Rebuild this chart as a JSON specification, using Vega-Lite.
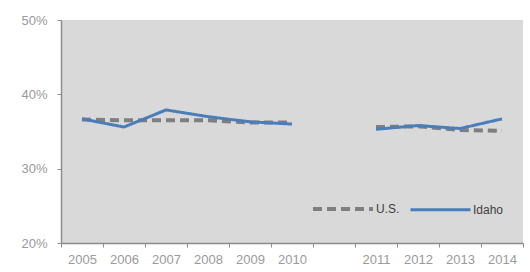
{
  "$schema": "https://vega.github.io/schema/vega-lite/v6.json",
  "width": 462,
  "height": 223,
  "autosize": {"type": "none"},
  "padding": {"left": 61, "top": 20, "right": 7, "bottom": 29},
  "background": "white",
  "config": {
    "view": {"fill": "#d9d9d9", "stroke": null},
    "font": "Liberation Sans",
    "axis": {"labelFont": "Liberation Sans", "labelColor": "#9a9a9a", "labelFontSize": 13, "domainColor": "#8c8c8c", "tickColor": "#8c8c8c", "grid": false}
  },
  "data": {
    "values": [
      {"year": "2005", "series": "U.S.", "value": 0.366},
      {"year": "2006", "series": "U.S.", "value": 0.365},
      {"year": "2007", "series": "U.S.", "value": 0.365},
      {"year": "2008", "series": "U.S.", "value": 0.365},
      {"year": "2009", "series": "U.S.", "value": 0.362},
      {"year": "2010", "series": "U.S.", "value": 0.362},
      {"year": " ", "series": "U.S.", "value": null},
      {"year": "2011", "series": "U.S.", "value": 0.356},
      {"year": "2012", "series": "U.S.", "value": 0.357},
      {"year": "2013", "series": "U.S.", "value": 0.352},
      {"year": "2014", "series": "U.S.", "value": 0.351},
      {"year": "2005", "series": "Idaho", "value": 0.367},
      {"year": "2006", "series": "Idaho", "value": 0.356},
      {"year": "2007", "series": "Idaho", "value": 0.379},
      {"year": "2008", "series": "Idaho", "value": 0.370},
      {"year": "2009", "series": "Idaho", "value": 0.363},
      {"year": "2010", "series": "Idaho", "value": 0.360},
      {"year": " ", "series": "Idaho", "value": null},
      {"year": "2011", "series": "Idaho", "value": 0.353},
      {"year": "2012", "series": "Idaho", "value": 0.358},
      {"year": "2013", "series": "Idaho", "value": 0.354},
      {"year": "2014", "series": "Idaho", "value": 0.367}
    ]
  },
  "mark": {"type": "line", "strokeCap": "butt"},
  "encoding": {
    "x": {
      "field": "year",
      "type": "nominal",
      "bandPosition": 0.5,
      "sort": null,
      "scale": {"type": "band", "domain": ["2005","2006","2007","2008","2009","2010"," ","2011","2012","2013","2014"], "paddingInner": 0, "paddingOuter": 0},
      "axis": {"title": null, "labelAngle": 0, "tickBand": "extent", "tickSize": 4, "labelPadding": 6, "domainWidth": 1.5}
    },
    "y": {
      "field": "value",
      "type": "quantitative",
      "scale": {"domain": [0.2, 0.5], "nice": false},
      "axis": {"title": null, "format": ".0%", "values": [0.2, 0.3, 0.4, 0.5], "tickSize": 4, "labelPadding": 10, "domainWidth": 1.5}
    },
    "color": {
      "field": "series",
      "type": "nominal",
      "sort": ["U.S.", "Idaho"],
      "scale": {"domain": ["U.S.", "Idaho"], "range": ["#7f7f7f", "#4a7ebb"]},
      "legend": {
        "title": null,
        "orient": "none",
        "legendX": 250,
        "legendY": 157,
        "direction": "horizontal",
        "symbolType": "stroke",
        "symbolSize": 3600,
        "symbolStrokeWidth": 3.5,
        "labelFontSize": 12,
        "labelColor": "#404040",
        "labelOffset": 1,
        "columnPadding": 4
      }
    },
    "strokeDash": {
      "field": "series",
      "type": "nominal",
      "sort": ["U.S.", "Idaho"],
      "scale": {"domain": ["U.S.", "Idaho"], "range": [[9, 5], [1, 0]]},
      "legend": null
    },
    "strokeWidth": {
      "field": "series",
      "type": "nominal",
      "scale": {"domain": ["U.S.", "Idaho"], "range": [4, 3]},
      "legend": null
    }
  }
}
